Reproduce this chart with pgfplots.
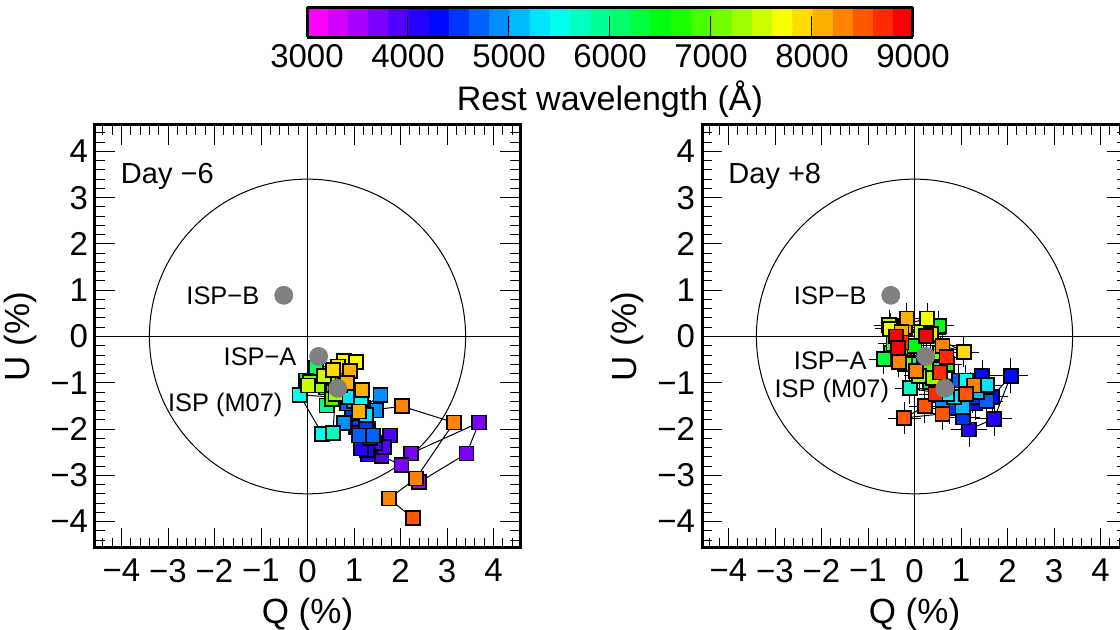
\documentclass[border=0pt]{standalone}
\usepackage{fontspec}
\setmainfont{Liberation Sans}
\usepackage{pgfplots}
\usepackage{pgfplotstable}
\pgfplotsset{compat=1.18}

% Day -6 : wavelength (A), Q (%), U (%)
\pgfplotstableread{
lam Q U
3550 2.40 -3.15
3600 3.42 -2.53
3650 3.69 -1.86
3700 2.22 -2.53
3750 2.02 -2.78
3800 1.59 -2.58
3850 1.77 -2.14
3900 1.64 -2.39
3950 1.45 -2.30
4000 1.30 -2.55
4100 1.27 -2.46
4150 1.15 -2.42
4200 1.35 -2.20
4250 1.20 -2.10
4300 1.05 -1.95
4350 1.30 -2.00
4400 1.10 -1.78
4450 0.95 -1.65
4500 1.25 -1.85
4600 0.85 -1.45
4700 1.41 -2.14
4750 1.11 -2.14
4800 0.79 -1.87
4900 1.48 -1.60
4950 1.57 -1.26
5000 1.20 -1.55
5100 1.00 -1.40
5200 1.25 -1.70
5300 0.90 -1.30
5400 1.15 -1.35
5500 -0.17 -1.26
5600 0.32 -2.11
5700 0.55 -2.08
5800 0.60 -1.20
5900 0.41 -1.49
6000 0.70 -1.05
6100 0.30 -0.80
6200 0.19 -0.67
6300 0.50 -0.95
6400 -0.03 -0.95
6500 0.40 -1.10
6600 0.65 -0.85
6700 0.25 -1.00
6800 0.80 -1.00
6900 0.52 -1.35
7000 0.10 -1.00
7100 0.45 -0.90
7200 0.05 -0.99
7300 0.60 -1.25
7400 0.23 -1.06
7500 0.01 -1.06
7600 0.35 -0.85
7700 0.79 -0.53
7800 1.05 -0.55
7900 0.65 -0.65
8000 0.54 -0.72
8050 0.91 -0.74
8100 0.85 -1.00
8150 1.17 -1.15
8200 1.10 -1.62
8250 2.04 -1.51
8300 3.15 -1.86
8350 2.33 -3.07
8400 1.75 -3.50
8450 2.27 -3.93
}\leftdata

% Day +8 : wavelength (A), Q (%), U (%), error (%)
\pgfplotstableread{
lam Q U e
4100 1.17 -2.01 0.25
4150 1.71 -1.78 0.25
4200 2.07 -0.85 0.25
4250 1.67 -1.30 0.22
4300 1.46 -0.85 0.22
4350 1.30 -1.45 0.22
4400 1.05 -1.75 0.22
4450 1.40 -1.15 0.22
4500 0.75 -1.55 0.22
4550 1.25 -1.30 0.22
4600 1.55 -1.40 0.22
4700 0.95 -0.95 0.20
4800 1.20 -1.10 0.20
4900 0.60 -1.42 0.20
5000 1.35 -1.20 0.20
5100 1.03 -1.53 0.20
5200 0.85 -1.30 0.20
5300 1.56 -1.05 0.20
5400 1.10 -0.95 0.20
5500 0.50 -1.10 0.20
5600 0.70 -1.25 0.20
5700 -0.10 -1.12 0.20
5800 0.30 -0.80 0.20
5900 0.10 -0.60 0.20
6000 0.40 -0.70 0.20
6100 0.20 -0.45 0.20
6200 -0.50 -0.35 0.20
6300 0.34 -0.99 0.20
6400 -0.66 -0.49 0.20
6500 0.52 0.23 0.20
6600 0.00 -0.20 0.20
6700 -0.30 -0.40 0.20
6800 0.70 -0.60 0.20
6900 -0.45 -0.15 0.20
7000 0.25 -0.60 0.20
7100 0.55 -0.35 0.20
7200 -0.20 -0.60 0.20
7300 0.10 -0.85 0.20
7400 0.40 -0.90 0.20
7500 -0.55 0.25 0.20
7600 0.15 0.10 0.20
7700 0.27 0.39 0.20
7800 -0.52 0.17 0.20
7900 1.06 -0.34 0.20
8000 0.35 0.05 0.20
8100 -0.20 0.20 0.20
8150 -0.17 0.39 0.20
8200 -0.28 0.09 0.20
8250 0.60 -0.20 0.20
8300 -0.34 -0.55 0.20
8350 0.04 -0.74 0.20
8400 1.28 -1.06 0.20
8450 0.22 -1.51 0.22
8500 -0.22 -1.76 0.22
8550 0.60 -1.67 0.22
8600 1.10 -1.24 0.22
8650 0.45 -1.25 0.22
8700 0.69 -0.45 0.20
8750 0.55 -0.78 0.20
8800 -0.28 -0.13 0.20
8850 -0.40 0.00 0.20
8900 0.25 0.01 0.20
8950 -0.35 -0.25 0.20
}\rightdata

\definecolor{ispgray}{RGB}{128,128,128}

\pgfplotsset{
  colormap={rb}{rgb=(1,0,1) rgb=(0,0,1) rgb=(0,1,1) rgb=(0,1,0) rgb=(1,1,0) rgb=(1,0,0)},
  colormap={rb30}{samples of colormap=(30 of rb)},
  qustyle/.style={
    scale only axis, width=212.5pt, height=211.5pt,
    xmin=-4.57, xmax=4.57, ymin=-4.57, ymax=4.57,
    axis line style={line width=1.5pt},
    xtick={-4,...,4}, ytick={-4,...,4},
    minor xtick={-4.4,-4.2,...,4.41},
    minor ytick={-4.4,-4.2,...,4.41},
    xticklabels={−4,−3,−2,−1,0,1,2,3,4},
    yticklabels={−4,−3,−2,−1,0,1,2,3,4},
    /pgf/number format/assume math mode=true,
    tick align=inside,
    major tick length=10pt, minor tick length=5pt,
    tick style={black, line width=0.5pt},
    minor tick style={black, line width=0.5pt},
    tick label style={font=\fontsize{16.5}{19}\selectfont},
    xticklabel style={yshift=-2pt},
    label style={font=\fontsize{17.5}{20}\selectfont},
    xlabel={Q (\%)}, ylabel={U (\%)},
    xlabel style={yshift=-1pt},
    colormap name=rb30, colormap access=piecewise constant,
    point meta min=3000, point meta max=9000,
  },
  ptstyle/.style={scatter, only marks, mark=square*, mark size=3.5pt,
    point meta=\thisrow{lam},
    scatter/use mapped color={draw=black, fill=mapped color},
    mark options={line width=0.9pt}},
}

\begin{document}
\begin{tikzpicture}
\useasboundingbox (0,0) rectangle (560pt,315pt);

% ---------------- Day -6 ----------------
\begin{axis}[qustyle, at={(47.5pt,41pt)}, anchor=south west,
  colorbar horizontal,
  colorbar style={
    at={(parent axis.north west)}, anchor=south west,
    xshift=106pt, yshift=52.5pt,
    scale only axis, width=303pt, height=15pt,
    axis line style={line width=1.5pt},
    xtick={3000,4000,...,9000},
    xticklabels={3000,4000,5000,6000,7000,8000,9000},
    minor xtick={},
    scaled x ticks=false,
    xtick pos=bottom, xticklabel pos=lower,
    tick align=inside, major tick length=10.5pt,
    xtick style={black, line width=0.5pt},
    tick label style={font=\fontsize{16.5}{19}\selectfont},
    xlabel={Rest wavelength (Å)},
    label style={font=\fontsize{17}{20}\selectfont},
  },
]
\draw[line width=0.5pt] (axis cs:-4.57,0) -- (axis cs:4.57,0);
\draw[line width=0.5pt] (axis cs:0,-4.57) -- (axis cs:0,4.57);
\draw[line width=0.5pt] (axis cs:0,0) circle[radius=3.4];
\addplot[black, line width=0.5pt, mark=none, forget plot] table[x=Q, y=U] \leftdata;
\addplot[ptstyle] table[x=Q, y=U] \leftdata;
\addplot[only marks, mark=*, mark size=4.5pt, draw=ispgray, fill=ispgray]
  coordinates {(-0.51,0.89) (0.24,-0.43) (0.65,-1.12)};
\node[anchor=west, inner sep=0pt, font=\fontsize{14.5}{17}\selectfont] at (axis cs:-4.02,3.45) {Day −6};
\node[anchor=east, inner sep=0pt, font=\fontsize{12.7}{15}\selectfont] at (axis cs:-1.03,0.89) {ISP−B};
\node[anchor=east, inner sep=0pt, font=\fontsize{12.7}{15}\selectfont] at (axis cs:-0.23,-0.43) {ISP−A};
\node[anchor=east, inner sep=0pt, font=\fontsize{12.7}{15}\selectfont] at (axis cs:-0.53,-1.48) {ISP (M07)};
\end{axis}

% ---------------- Day +8 ----------------
\begin{axis}[qustyle, at={(351pt,41pt)}, anchor=south west]
\draw[line width=0.5pt] (axis cs:-4.57,0) -- (axis cs:4.57,0);
\draw[line width=0.5pt] (axis cs:0,-4.57) -- (axis cs:0,4.57);
\draw[line width=0.5pt] (axis cs:0,0) circle[radius=3.4];
\addplot[black, only marks, mark=none, forget plot,
  error bars/.cd, x dir=both, y dir=both, x explicit, y explicit,
  error bar style={black, line width=0.4pt},
  error mark options={black, mark size=3pt, line width=0.4pt}]
  table[x=Q, y=U, x error=e, y error=e] \rightdata;
\addplot[black, line width=0.5pt, mark=none, forget plot] table[x=Q, y=U] \rightdata;
\addplot[ptstyle] table[x=Q, y=U] \rightdata;
\addplot[only marks, mark=*, mark size=4.5pt, draw=ispgray, fill=ispgray]
  coordinates {(-0.51,0.89) (0.24,-0.43) (0.65,-1.12)};
\node[anchor=west, inner sep=0pt, font=\fontsize{14.5}{17}\selectfont] at (axis cs:-4.01,3.45) {Day +8};
\node[anchor=east, inner sep=0pt, font=\fontsize{12.7}{15}\selectfont] at (axis cs:-1.02,0.89) {ISP−B};
\node[anchor=east, inner sep=0pt, font=\fontsize{12.7}{15}\selectfont] at (axis cs:-1.02,-0.52) {ISP−A};
\node[anchor=east, inner sep=0pt, font=\fontsize{12.7}{15}\selectfont] at (axis cs:-0.54,-1.17) {ISP (M07)};
\end{axis}
\end{tikzpicture}
\end{document}
